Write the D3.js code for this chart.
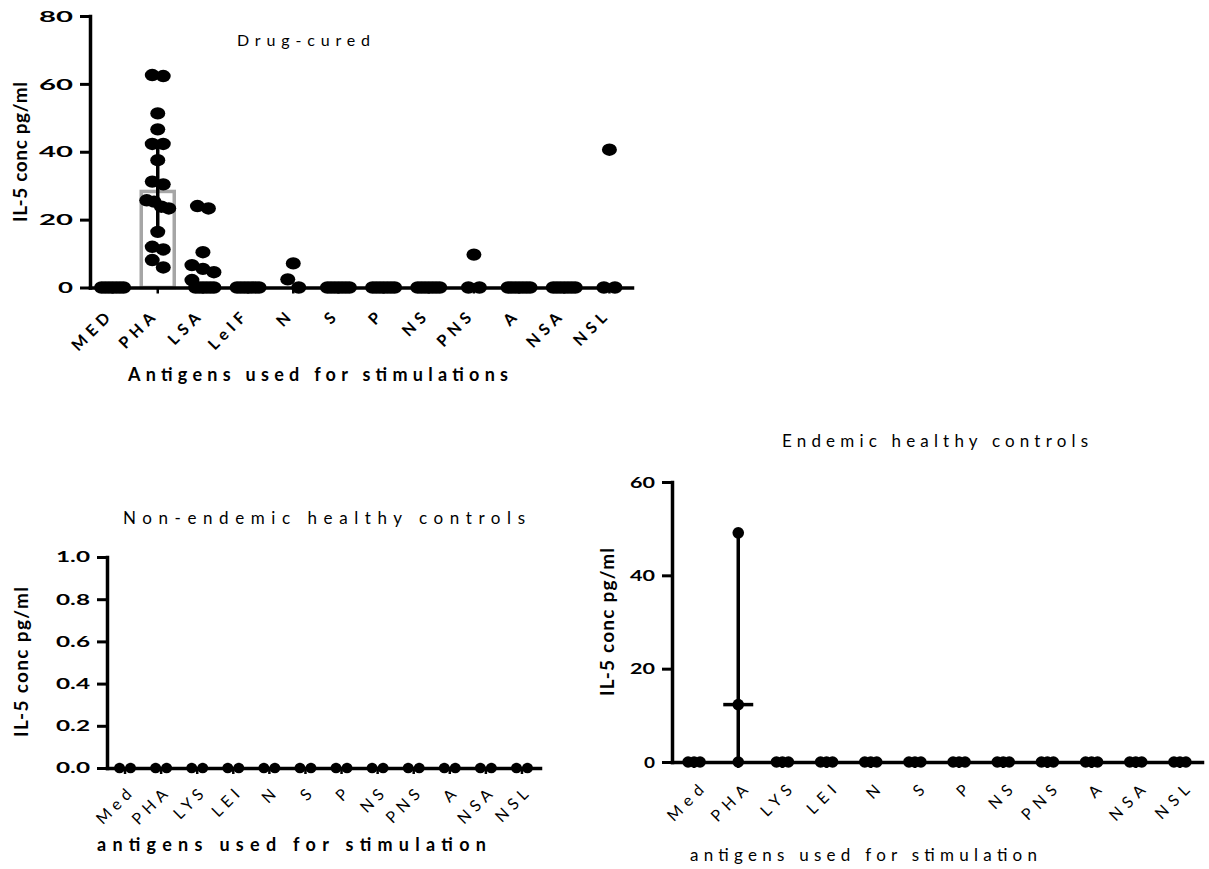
<!doctype html>
<html lang="en">
<head>
<meta charset="UTF-8">
<title>IL-5 responses to antigen stimulation</title>
<style>
  body { margin: 0; background: #fff; }
  svg { display: block; font-family: Lato, "Open Sans", sans-serif; }
  .axis path, .axis line { stroke: #000; }
</style>
</head>
<body>
<script src="https://d3js.org/d3.v7.min.js"></script>
<script>
// values
var drugCats = ["MED", "PHA", "LSA", "LeIF", "N", "S", "P", "NS", "PNS", "A", "NSA", "NSL"];
var ctrlCats = ["Med", "PHA", "LYS", "LEI", "N", "S", "P", "NS", "PNS", "A", "NSA", "NSL"];

var drugCuredValues = [
  [0, 0, 0, 0, 0, 0, 0],
  [62.6, 62.3, 51.3, 46.6, 42.3, 42.3, 37.5, 31.2, 30.4, 25.7, 25.3, 23.8, 23.3, 16.4, 12.0, 11.2, 8.1, 5.9],
  [24.0, 23.3, 10.4, 6.6, 5.5, 4.5, 2.2, 0, 0, 0, 0, 0, 0],
  [0, 0, 0, 0, 0, 0, 0],
  [7.1, 2.4, 0],
  [0, 0, 0, 0, 0, 0, 0],
  [0, 0, 0, 0, 0, 0, 0],
  [0, 0, 0, 0, 0, 0, 0],
  [9.7, 0, 0],
  [0, 0, 0, 0, 0, 0, 0],
  [0, 0, 0, 0, 0, 0, 0],
  [40.6, 0, 0]
];
var drugCuredMedian = [0, 28.3, 0, 0, 0, 0, 0, 0, 0, 0, 0, 0];
var drugCuredLow    = [0, 16.0, 0, 0, 0, 0, 0, 0, 0, 0, 0, 0];
var drugCuredHigh   = [0, 42.0, 0, 0, 0, 0, 0, 0, 0, 0, 0, 0];

var nonEndemicValues = [
  [0, 0], [0, 0], [0, 0], [0, 0], [0, 0], [0, 0],
  [0, 0], [0, 0], [0, 0], [0, 0], [0, 0], [0, 0]
];

var endemicValues = [
  [0, 0, 0], [49.1, 12.3, 0], [0, 0, 0], [0, 0, 0], [0, 0, 0], [0, 0, 0],
  [0, 0, 0], [0, 0, 0], [0, 0, 0], [0, 0, 0], [0, 0, 0], [0, 0, 0]
];
var endemicMedian = [0, 12.3, 0, 0, 0, 0, 0, 0, 0, 0, 0, 0];
var endemicLow    = [0, 0, 0, 0, 0, 0, 0, 0, 0, 0, 0, 0];
var endemicHigh   = [0, 49.1, 0, 0, 0, 0, 0, 0, 0, 0, 0, 0];

var drugTicks = [0, 20, 40, 60, 80];
var nonEndemicTicks = [0, 0.2, 0.4, 0.6, 0.8, 1.0];
var endemicTicks = [0, 20, 40, 60];

var width = 1209, height = 869;

var svg = d3.select("body").append("svg")
    .attr("width", width)
    .attr("height", height);

// GraphPad-style scatter: points with close values share a row, spread sideways
function swarm(values, y, thr, spacing, maxHalf) {
  var rows = [];
  values.slice().sort(d3.descending).forEach(function(v) {
    var row = rows[rows.length - 1];
    if (row && Math.abs(y(v) - row.y0) <= thr) row.pts.push(v);
    else rows.push({y0: y(v), pts: [v]});
  });
  var out = [];
  rows.forEach(function(r) {
    var k = r.pts.length;
    var step = k > 1 ? Math.min(spacing, 2 * maxHalf / (k - 1)) : 0;
    r.pts.forEach(function(v, i) { out.push({v: v, dx: (i - (k - 1) / 2) * step}); });
  });
  return out;
}

function addText(str, x, y, o) {
  var t = svg.append("text")
      .attr("x", x)
      .attr("y", y)
      .attr("font-size", o.size)
      .attr("font-weight", o.bold ? 700 : 400)
      .attr("text-anchor", o.anchor || "start")
      .text(str);
  if (o.len) t.attr("textLength", o.len).attr("lengthAdjust", "spacing");
  if (o.rotate) t.attr("transform", "rotate(" + o.rotate + "," + x + "," + y + ")");
  return t;
}

function panel(c) {
  var g = svg.append("g");

  var x = d3.scaleBand().domain(c.cats).range([c.x0, c.x1]);
  var y = d3.scaleLinear().domain([0, c.yMax]).range([c.yBottom, c.yTop]);
  var cx = function(i) { return x(c.cats[i]) + x.bandwidth() / 2; };

  // median bars (drawn under everything)
  if (c.bar) {
    g.selectAll(".bar")
      .data(c.median.map(function(m, i) { return {m: m, i: i}; }).filter(function(d) { return d.m > 0; }))
      .enter().append("rect")
        .attr("x", function(d) { return cx(d.i) - c.barWidth / 2; })
        .attr("y", function(d) { return y(d.m); })
        .attr("width", c.barWidth)
        .attr("height", function(d) { return y(0) - y(d.m); })
        .attr("fill", "none")
        .attr("stroke", "#a6a6a6")
        .attr("stroke-width", 3.5);
  }

  // axes
  var yAxis = d3.axisLeft(y)
      .tickValues(c.ticks)
      .tickFormat(c.fmt)
      .tickSize(10)
      .tickSizeOuter(0)
      .tickPadding(7);

  var yg = g.append("g")
      .attr("class", "axis")
      .attr("transform", "translate(" + c.x0 + ",0)")
      .call(yAxis);
  yg.select(".domain").attr("stroke-width", 3.5).attr("stroke-linecap", "square");
  yg.selectAll(".tick line").attr("stroke-width", 3);
  yg.selectAll(".tick text")
      .attr("font-family", "Lato, sans-serif")
      .attr("font-size", c.tickSize)
      .attr("font-weight", 700)
      .attr("fill", "#000")
      .attr("textLength", function(d) {
        var s = c.fmt(d), w = 0;
        for (var k = 0; k < s.length; k++) w += s[k] === "." ? c.dotW : c.digitW;
        return w + c.gap * (s.length - 1);
      })
      .attr("lengthAdjust", "spacingAndGlyphs");

  var xAxis = d3.axisBottom(x)
      .tickSize(6)
      .tickSizeOuter(0);

  var xg = g.append("g")
      .attr("class", "axis")
      .attr("transform", "translate(0," + c.yBottom + ")")
      .call(xAxis);
  xg.select(".domain").attr("stroke-width", 3.5).attr("stroke-linecap", "square");
  xg.selectAll(".tick line").attr("stroke-width", 2.5);
  xg.selectAll(".tick text")
      .attr("font-family", "Lato, sans-serif")
      .attr("font-size", c.xLabelSize)
      .attr("font-weight", c.xLabelBold ? 700 : 400)
      .attr("letter-spacing", c.xLabelSpacing)
      .attr("fill", "#000")
      .attr("text-anchor", "end")
      .attr("x", 0).attr("y", 0).attr("dy", 0)
      .attr("transform", "translate(" + c.xLabelDx + "," + c.xLabelDy + ") rotate(" + c.xLabelAngle + ")");

  // points
  c.values.forEach(function(vals, i) {
    g.append("g").selectAll("ellipse")
      .data(swarm(vals, y, c.thr, c.spacing, c.maxHalf))
      .enter().append("ellipse")
        .attr("cx", function(d) { return cx(i) + d.dx; })
        .attr("cy", function(d) { return y(d.v); })
        .attr("rx", c.rx)
        .attr("ry", c.ry)
        .attr("fill", "#000");
  });

  // median / interquartile range
  if (c.median) {
    c.median.forEach(function(m, i) {
      if (c.high[i] > c.low[i]) {
        g.append("line")
            .attr("x1", cx(i)).attr("x2", cx(i))
            .attr("y1", y(c.low[i])).attr("y2", y(c.high[i]))
            .attr("stroke", "#000").attr("stroke-width", 3.5);
        if (c.capWidth) {
          [c.low[i], c.high[i]].forEach(function(v) {
            g.append("line")
                .attr("x1", cx(i) - c.capWidth / 2).attr("x2", cx(i) + c.capWidth / 2)
                .attr("y1", y(v)).attr("y2", y(v))
                .attr("stroke", "#000").attr("stroke-width", 3.5);
          });
        }
      }
      if (!c.bar && m > 0) {
        g.append("line")
            .attr("x1", cx(i) - c.medianWidth / 2).attr("x2", cx(i) + c.medianWidth / 2)
            .attr("y1", y(m)).attr("y2", y(m))
            .attr("stroke", "#000").attr("stroke-width", 3.5);
      }
    });
  }
}

// Drug-cured
panel({
  cats: drugCats, values: drugCuredValues,
  median: drugCuredMedian, low: drugCuredLow, high: drugCuredHigh,
  bar: true, barWidth: 33, capWidth: 12,
  x0: 90, x1: 632, yTop: 16, yBottom: 287.5, yMax: 80,
  ticks: drugTicks, fmt: d3.format("d"),
  tickSize: 16, digitW: 15, dotW: 6, gap: 4,
  xLabelSize: 16, xLabelBold: true, xLabelSpacing: 5,
  xLabelDx: 2, xLabelDy: 28, xLabelAngle: -45,
  rx: 7.5, ry: 6.2, thr: 9, spacing: 11, maxHalf: 11
});
addText("Drug-cured", 237, 46, {size: 16, len: 133});
addText("IL-5 conc pg/ml", 27, 152, {size: 19, bold: true, anchor: "middle", rotate: -90, len: 140});
addText("Antigens used for stimulations", 128, 381, {size: 18, bold: true, len: 380});

// Non-endemic healthy controls
panel({
  cats: ctrlCats, values: nonEndemicValues,
  x0: 107, x1: 540, yTop: 557, yBottom: 768, yMax: 1,
  ticks: nonEndemicTicks, fmt: d3.format(".1f"),
  tickSize: 15, digitW: 11, dotW: 6, gap: 3,
  xLabelSize: 16, xLabelBold: false, xLabelSpacing: 5,
  xLabelDx: 11, xLabelDy: 24, xLabelAngle: -45,
  rx: 5.5, ry: 5.2, thr: 8, spacing: 11, maxHalf: 5.5
});
addText("Non-endemic healthy controls", 123, 524, {size: 17, len: 402});
addText("IL-5 conc pg/ml", 28, 662, {size: 19, bold: true, anchor: "middle", rotate: -90, len: 150});
addText("antigens used for stimulation", 97, 851, {size: 18, bold: true, len: 389});

// Endemic healthy controls
panel({
  cats: ctrlCats, values: endemicValues,
  median: endemicMedian, low: endemicLow, high: endemicHigh,
  bar: false, medianWidth: 30,
  x0: 672, x1: 1202, yTop: 482, yBottom: 762, yMax: 60,
  ticks: endemicTicks, fmt: d3.format("d"),
  tickSize: 16, digitW: 11, dotW: 6, gap: 3,
  xLabelSize: 16, xLabelBold: false, xLabelSpacing: 6,
  xLabelDx: 15, xLabelDy: 25, xLabelAngle: -45,
  rx: 5.8, ry: 5.8, thr: 8, spacing: 6, maxHalf: 6
});
addText("Endemic healthy controls", 782, 447, {size: 17, len: 306});
addText("IL-5 conc pg/ml", 614, 622, {size: 19, bold: true, anchor: "middle", rotate: -90, len: 148});
addText("antigens used for stimulation", 690, 861, {size: 17, len: 347});
</script>
</body>
</html>
